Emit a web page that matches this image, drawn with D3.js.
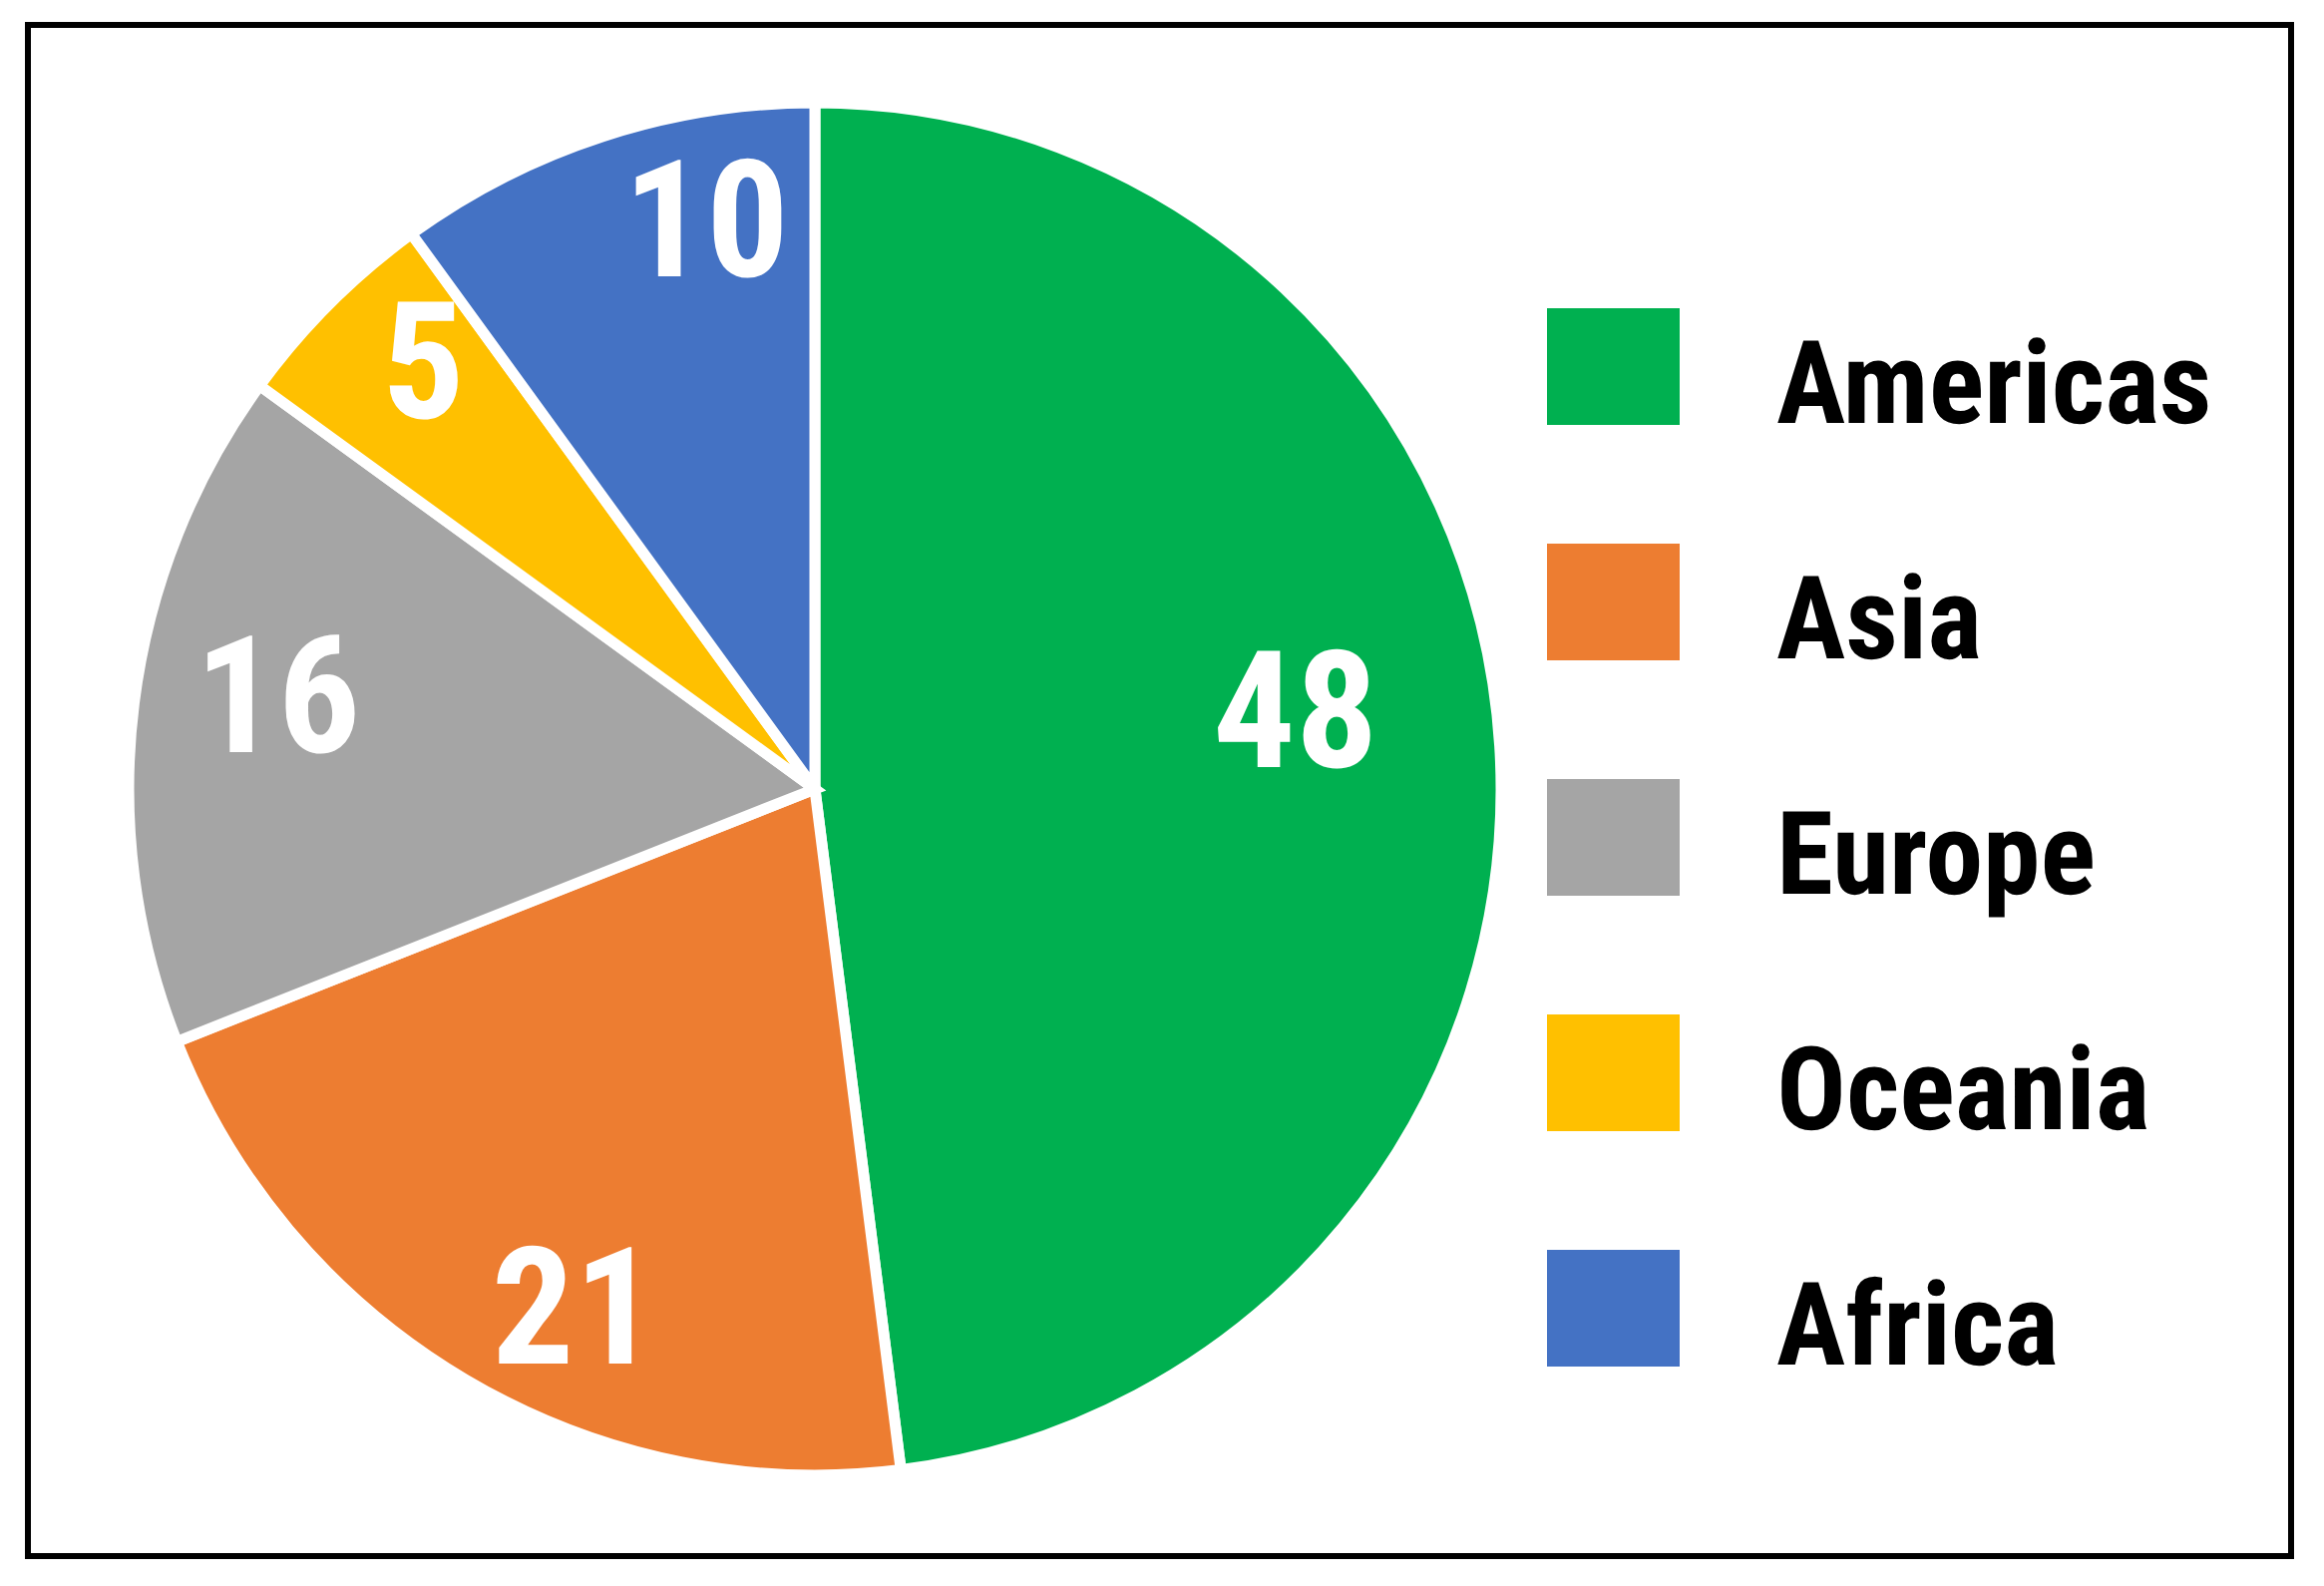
<!DOCTYPE html>
<html>
<head>
<meta charset="utf-8">
<script src="https://cdn.jsdelivr.net/npm/d3@7/dist/d3.min.js"></script>
<style>
  html, body { margin: 0; padding: 0; background: #fff; }
  svg { display: block; }
  text { text-rendering: geometricPrecision; }
</style>
</head>
<body>
<svg id="chart" width="2330" height="1590"></svg>
<script>
// ---- data ----
const categories = ["Americas", "Asia", "Europe", "Oceania", "Africa"];
const values = [48, 21, 16, 5, 10];
const colors = ["#00B050", "#ED7D31", "#A5A5A5", "#FFC000", "#4472C4"];
// label placement inside each slice (fraction along slice angle, fraction of radius) — Excel "best fit" look
const labelAlong = [0.466, 0.426, 0.549, 0.644, 0.70];
const labelRadius = [0.71, 0.83, 0.795, 0.846, 0.846];

// ---- layout ----
const W = 2330, H = 1590;
const cx = 817, cy = 791, R = 688;
const FONT = '"Roboto Condensed", "Liberation Sans Narrow", "Arial Narrow", sans-serif';

const svg = d3.select("#chart");
svg.append("rect").attr("width", W).attr("height", H).attr("fill", "#fff");

// frame
svg.append("rect")
  .attr("x", 28).attr("y", 25).attr("width", 2269).attr("height", 1535)
  .attr("fill", "none").attr("stroke", "#000").attr("stroke-width", 6);

const pie = d3.pie().sort(null).value(d => d.value);
const arcs = pie(categories.map((c, i) => ({ name: c, value: values[i], color: colors[i], i })));
const arc = d3.arc().innerRadius(0).outerRadius(R);

const g = svg.append("g").attr("transform", `translate(${cx},${cy})`);
g.selectAll("path.slice").data(arcs).join("path")
  .attr("class", "slice")
  .attr("d", arc)
  .attr("fill", d => d.data.color)
  .attr("stroke", "#fff")
  .attr("stroke-width", 11)
  .attr("stroke-linejoin", "miter");

// value labels
function labelPos(d) {
  const i = d.data.i;
  const a = d.startAngle + (d.endAngle - d.startAngle) * labelAlong[i];
  const r = R * labelRadius[i];
  return [r * Math.sin(a), -r * Math.cos(a)];
}
g.selectAll("text.val").data(arcs).join("text")
  .attr("class", "val")
  .attr("x", d => labelPos(d)[0])
  .attr("y", d => labelPos(d)[1])
  .attr("text-anchor", "middle")
  .attr("dy", "0.355em")
  .attr("fill", "#fff")
  .attr("text-rendering", "geometricPrecision")
  .style("font-family", FONT)
  .style("font-weight", "bold")
  .style("font-size", "164px")
  .text(d => d.data.value);

// legend
const ly = d3.scaleLinear().domain([0, categories.length - 1]).range([309, 1253]);
const items = svg.append("g").selectAll("g").data(categories).join("g")
  .attr("transform", (d, i) => `translate(1551,${ly(i)})`);
items.append("rect")
  .attr("width", 133).attr("height", 117)
  .attr("fill", (d, i) => colors[i]);
items.append("text")
  .attr("x", 230).attr("y", 115)
  .attr("text-rendering", "geometricPrecision")
  .style("font-family", FONT)
  .style("font-weight", "bold")
  .style("font-size", "116px")
  .attr("fill", "#000")
  .text(d => d);
</script>
</body>
</html>
